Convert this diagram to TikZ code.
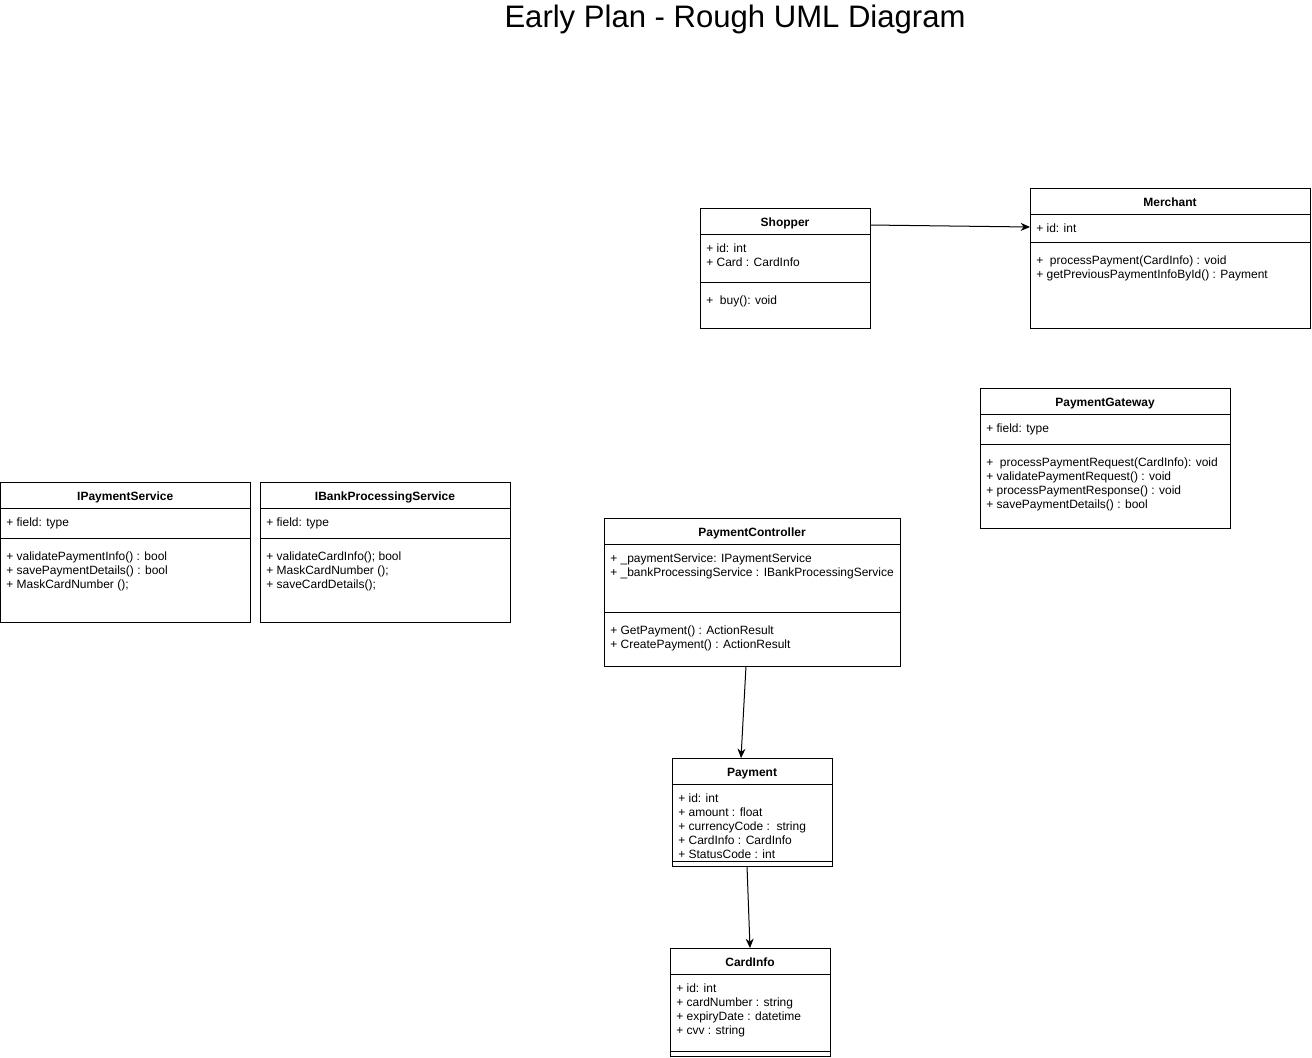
\documentclass[tikz,border=0pt]{standalone}
\usepackage{fontspec}
\setmainfont{Liberation Sans}
\usetikzlibrary{arrows.meta,calc}
\tikzset{
 umlbox/.style={draw, line width=0.75pt, anchor=north west, inner sep=0pt, outer sep=0pt},
 hdr/.style={font=\bfseries\fontsize{9}{10}\selectfont, inner sep=0pt, anchor=base},
 rowtxt/.style={font=\fontsize{9}{10}\selectfont, inner sep=0pt, anchor=base west},
 divl/.style={line width=0.75pt},
 conn/.style={line width=0.75pt, -{Stealth[length=7pt,width=6pt]}}
}
\newcommand\classbox[8]{%
 \node[umlbox, minimum width={(#4-#2)*0.75pt}, minimum height={(#5-#3)*0.75pt}] (#1) at (#2,#3) {};
 \node[hdr] (#1-t) at ({(#2+#4)/2},{(#3+#7)/2+5.5}) {#6};
 \draw[divl] (#2,#7) -- (#4,#7);
 \draw[divl] (#2,#8) -- (#4,#8);
}
\newcommand\rows[4]{%
 \foreach \t [count=\i from 0] in {#4} {\node[rowtxt] (#1-\i) at (#2,{#3+5.5+14*\i}) {\t};}
}
\begin{document}
\begin{tikzpicture}[x=0.75pt,y=-0.75pt]
\useasboundingbox (0,0) rectangle (1312,1057);
\node[font=\fontsize{23.3}{27}\selectfont, inner sep=0pt] (title) at (735,19) {Early Plan - Rough UML Diagram};

\classbox{shopper}{700}{208}{870}{328}{Shopper}{234}{282}
\rows{shopper-a}{706}{247}{{+ id: int},{+ Card : CardInfo}}
\rows{shopper-m}{706}{299}{{+\ \ buy(): void}}

\classbox{merchant}{1030}{188}{1310}{328}{Merchant}{214}{242}
\rows{merchant-a}{1036}{227}{{+ id: int}}
\rows{merchant-m}{1036}{259}{{+\ \ processPayment(CardInfo) : void},{+ getPreviousPaymentInfoById() : Payment}}

\classbox{gateway}{980}{388}{1230}{528}{PaymentGateway}{414}{444}
\rows{gateway-a}{986}{427}{{+ field: type}}
\rows{gateway-m}{986}{461}{{+\ \ processPaymentRequest(CardInfo): void},{+ validatePaymentRequest() : void},{+ processPaymentResponse() : void},{+ savePaymentDetails() : bool}}

\classbox{ips}{0.5}{482}{250}{622}{IPaymentService}{508}{538}
\rows{ips-a}{6}{521}{{+ field: type}}
\rows{ips-m}{6}{555}{{+ validatePaymentInfo() : bool},{+ savePaymentDetails() : bool},{+ MaskCardNumber ();}}

\classbox{ibps}{260}{482}{510}{622}{IBankProcessingService}{508}{538}
\rows{ibps-a}{266}{521}{{+ field: type}}
\rows{ibps-m}{266}{555}{{+ validateCardInfo(); bool},{+ MaskCardNumber ();},{+ saveCardDetails();}}

\classbox{pc}{604}{518}{900}{666}{PaymentController}{544}{612}
\rows{pc-a}{610}{557}{{+ \_paymentService: IPaymentService},{+ \_bankProcessingService : IBankProcessingService}}
\rows{pc-m}{610}{629}{{+ GetPayment() : ActionResult},{+ CreatePayment() : ActionResult}}

\classbox{pay}{672}{758}{832}{866}{Payment}{784}{861}
\rows{pay-a}{678}{797}{{+ id: int},{+ amount : float},{+ currencyCode :\ \ string},{+ CardInfo : CardInfo},{+ StatusCode : int}}

\classbox{card}{670}{948}{830}{1056}{CardInfo}{974}{1051}
\rows{card-a}{676}{987}{{+ id: int},{+ cardNumber : string},{+ expiryDate : datetime},{+ cvv : string}}

\draw[conn] ($(shopper.north east)+(0,17)$) -- ($(merchant.north west)+(0,39)$);
\draw[conn] ($(pc.south)+(-6,0)$) -- ($(pay.north)+(-11,0)$);
\draw[conn] ($(pay.south)+(-5,0)$) -- ($(card.north)+(0,0)$);
\end{tikzpicture}
\end{document}
